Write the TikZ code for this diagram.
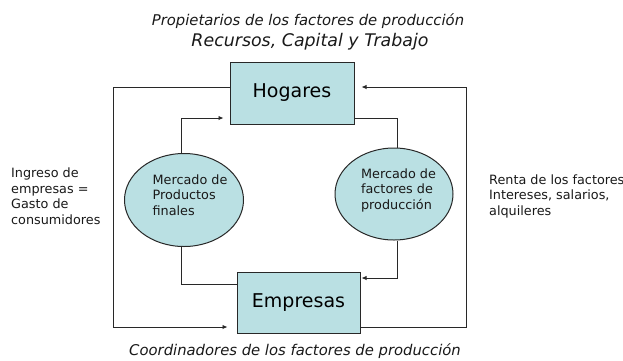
\documentclass[tikz,border=0pt]{standalone}
\usepackage{fontspec}
\setmainfont{DejaVu Sans}
\usetikzlibrary{shapes.geometric,arrows.meta}
\definecolor{boxfill}{RGB}{186,224,227}
\definecolor{linec}{RGB}{40,40,40}
\tikzset{
  sector/.style={draw=linec, line width=1pt, fill=boxfill, inner sep=0pt, font=\fontsize{19}{22}\selectfont},
  market/.style={ellipse, draw=linec, line width=1pt, fill=boxfill, inner sep=0pt},
  small/.style={inner sep=0pt, align=left, font=\fontsize{12.8}{15.5}\selectfont, text=black!90},
  ttl/.style={inner sep=0pt, font=\fontsize{14.8}{17}\selectfont\itshape, text=black!90},
  conn/.style={draw=linec, line width=0.9pt},
  arr/.style={conn, -{Latex[length=5pt,width=4.5pt]}}
}
\begin{document}
\begin{tikzpicture}[x=1pt,y=-1pt]
\useasboundingbox (0,0) rectangle (623,360);
% boxes
\node[sector, minimum width=124pt, minimum height=62pt] (hog) at (292,93) {Hogares};
\node[sector, minimum width=123pt, minimum height=61pt] (emp) at (298.5,302.5) {Empresas};
% markets
\node[market, minimum width=119pt, minimum height=93pt] (mpf) at (184,200) {};
\node[market, minimum width=118pt, minimum height=92pt] (mfp) at (394,194) {};
\node[small] (mpft) at (190,195) {Mercado de\\Productos\\finales};
\node[small] (mfpt) at (398.5,190) {Mercado de\\factores de\\producción};
% titles
\node[ttl] (t1) at (308,21) {Propietarios de los factores de producción};
\node[ttl, font=\fontsize{17.4}{20}\selectfont\itshape] (t2) at (310,42) {Recursos, Capital y Trabajo};
\node[ttl] (t3) at (295,351) {Coordinadores de los factores de producción};
% side labels
\node[small, anchor=west] (lt) at (11,196) {Ingreso de\\empresas =\\Gasto de\\consumidores};
\node[small, anchor=west] (rt) at (489,196) {Renta de los factores\\Intereses, salarios,\\alquileres};
% outer loop
\draw[arr, shorten >=9pt] ([yshift=6pt]hog.west) -- (113,87) -- (113,327) -- ([yshift=-24.5pt]emp.west);
\draw[arr, shorten >=7pt] ([yshift=-24.5pt]emp.east) -- (466,327) -- (466,87) -- ([yshift=6pt]hog.east);
% inner loop
\draw[arr, shorten >=6pt] (mpf.north -| 181,0) -- (181,118) -- ([yshift=-25pt]hog.west);
\draw[conn] (mpf.south -| 181,0) -- (181,284) -- ([yshift=18.5pt]emp.west);
\draw[conn] ([yshift=-25pt]hog.east) -- (397,118) -- (mfp.north -| 397,0);
\draw[arr, shorten >=1pt] (mfp.south -| 397,0) -- (397,278) -- ([yshift=24.5pt]emp.east);
\end{tikzpicture}
\end{document}
